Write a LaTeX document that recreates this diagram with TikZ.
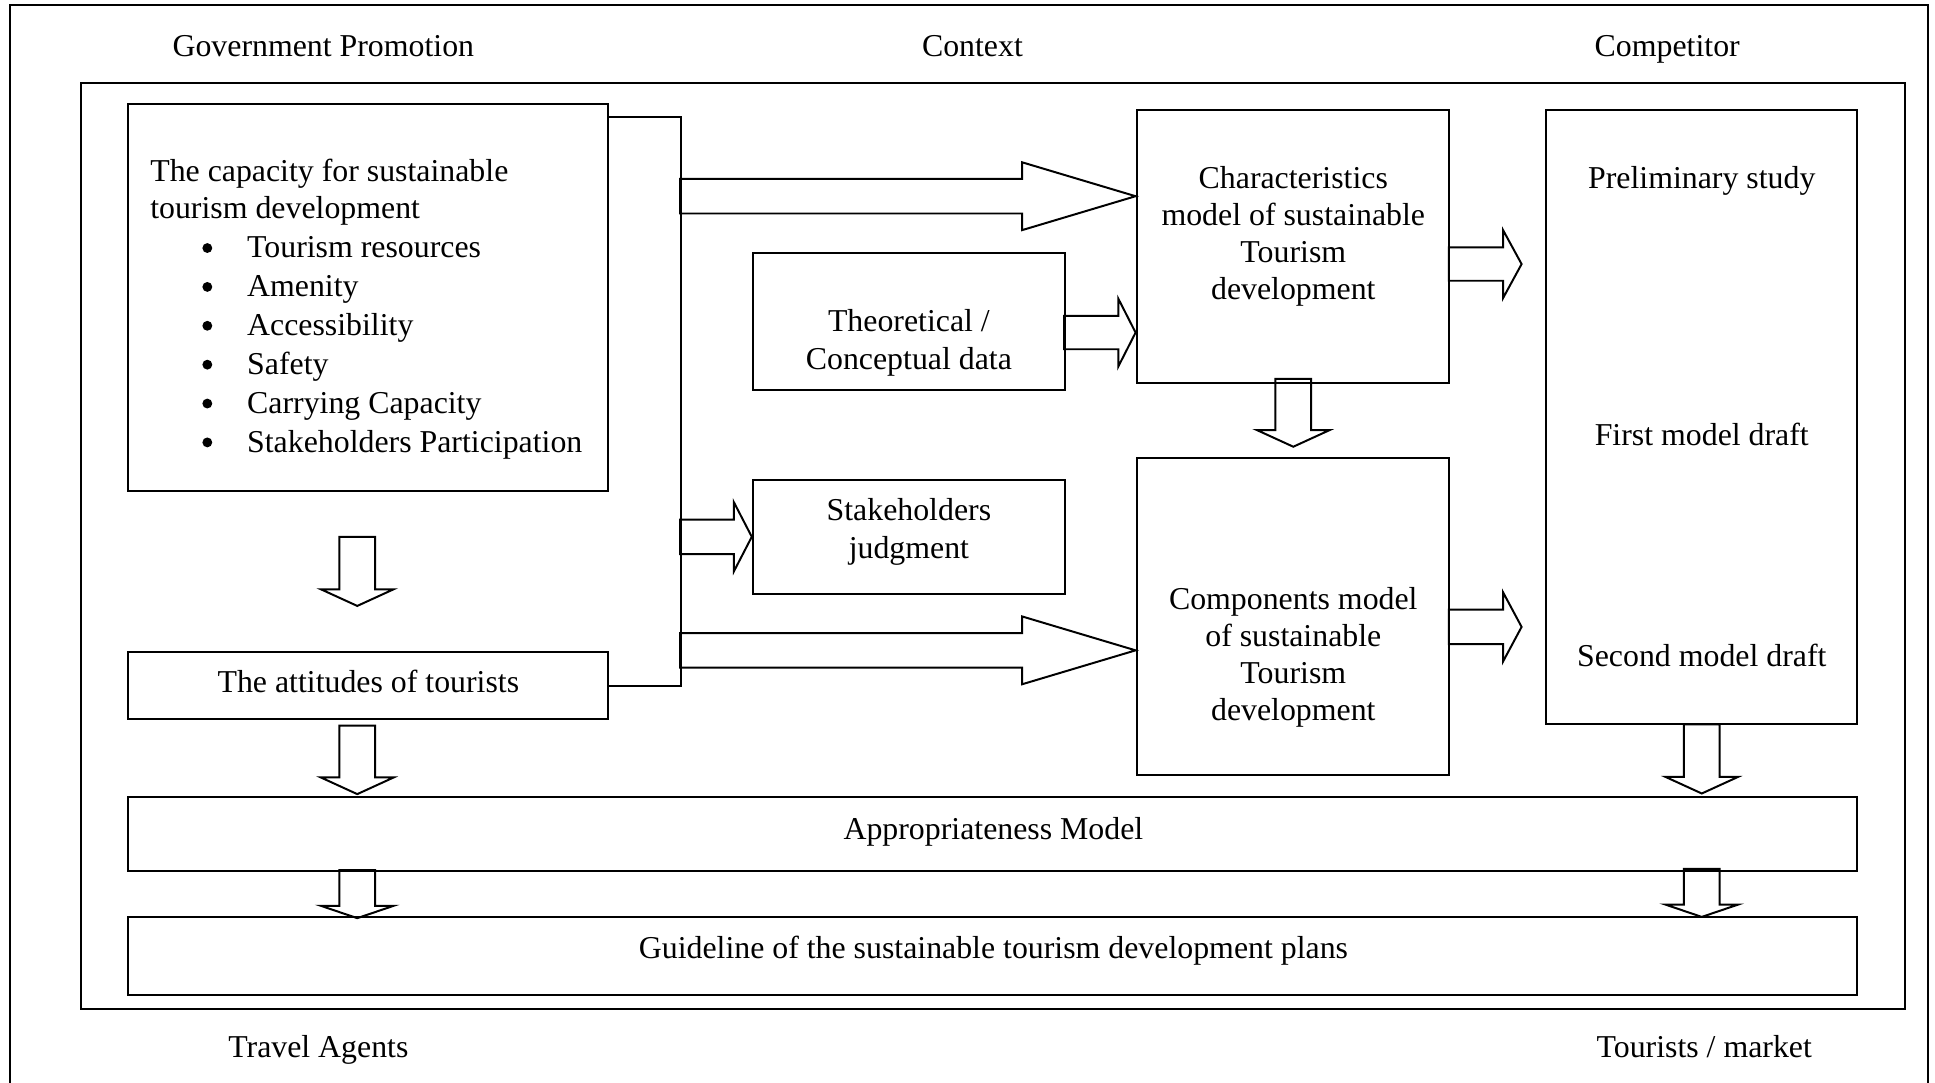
\documentclass[tikz,border=0pt]{standalone}
\usepackage{fontspec}
\setmainfont{Liberation Serif}
\usetikzlibrary{fit}

% right-pointing block arrow: tip, total length, head length, shaft half-width, head half-width
\newcommand{\blockright}[5]{%
  \draw[blk] (#1) -- ++(-#3,-#5) -- ++(0,#5-#4) -- ++(-#2+#3,0) -- ++(0,2*#4)
    -- ++(#2-#3,0) -- ++(0,#5-#4) -- cycle;}
% downward block arrow: tip, total length, head length, shaft half-width, head half-width
\newcommand{\blockdown}[5]{%
  \draw[blk] (#1) -- ++(-#5,-#3) -- ++(#5-#4,0) -- ++(0,-#2+#3) -- ++(2*#4,0)
    -- ++(0,#2-#3) -- ++(#5-#4,0) -- cycle;}

\begin{document}
\begin{tikzpicture}[x=0.5pt,y=-0.5pt,line width=0.8pt,
  box/.style={draw,inner sep=0pt,line width=0.8pt},
  txt/.style={inner sep=0pt,anchor=base,font=\fontsize{12.9pt}{15pt}\selectfont},
  dot/.style={circle,fill,inner sep=0pt,minimum size=4pt},
  blk/.style={draw,line width=0.8pt,line join=miter}]
\useasboundingbox (0,0) rectangle (1568,877);

% outer frame (open at the bottom edge of the page)
\draw (8,900) -- (8,4) -- (1562,4) -- (1562,900);
% inner frame
\node[box,fit={(66,67) (1544,818)}] (frame) {};

% surrounding labels
\node[txt] (gov)  at (262,46)  {Government Promotion};
\node[txt] (ctx)  at (788,46)  {Context};
\node[txt] (comp-l) at (1351,46) {Competitor};
\node[txt] (agents) at (258,857) {Travel Agents};
\node[txt] (market) at (1381,857) {Tourists / market};

% boxes
\node[box,fit={(104,84) (493,398)}]   (cap)   {};
\node[box,fit={(104,528) (493,583)}]  (att)   {};
\node[box,fit={(610,205) (863,316)}]  (theo)  {};
\node[box,fit={(610,389) (863,481)}]  (stk)   {};
\node[box,fit={(921,89) (1174,310)}]  (char)  {};
\node[box,fit={(921,371) (1174,628)}] (comp)  {};
\node[box,fit={(1253,89) (1505,587)}] (stage) {};
\node[box,fit={(104,646) (1505,706)}] (appr)  {};
\node[box,fit={(104,743) (1505,806)}] (guide) {};

% capacity box contents
\node[txt,anchor=base west] (cap-1) at (121,147) {The capacity for sustainable};
\node[txt,anchor=base west] (cap-2) at (121,177) {tourism development};
\foreach \item [count=\i] in {Tourism resources,Amenity,Accessibility,Safety,Carrying Capacity,Stakeholders Participation}{
  \node[dot] (bul-\i) at (168,{201+(\i-1)*31.5}) {};
  \node[txt,anchor=base west] (itm-\i) at (199.5,{209+(\i-1)*31.5}) {\item};
}

% other box texts
\node[txt] (att-t) at (298.5,561) {The attitudes of tourists};
\node[txt] (theo-1) at (736.5,269) {Theoretical /};
\node[txt] (theo-2) at (736.5,299.5) {Conceptual data};
\node[txt] (stk-1) at (736.5,422) {Stakeholders};
\node[txt] (stk-2) at (736.5,452.5) {judgment};
\foreach \t [count=\i] in {Characteristics,model of sustainable,Tourism,development}
  \node[txt] (char-\i) at (1048,{153+(\i-1)*30}) {\t};
\foreach \t [count=\i] in {Components model,of sustainable,Tourism,development}
  \node[txt] (comp-\i) at (1048,{494+(\i-1)*30}) {\t};
\node[txt] (st-1) at (1379,153) {Preliminary study};
\node[txt] (st-2) at (1379,361) {First model draft};
\node[txt] (st-3) at (1379,540) {Second model draft};
\node[txt] (appr-t) at (805,680) {Appropriateness Model};
\node[txt] (guide-t) at (805,777) {Guideline of the sustainable tourism development plans};

% bus collecting the two left inputs
\coordinate (bus) at (552,95);
\draw (cap.east |- bus) -- (bus) -- (att.east -| bus) -- (att.east);

% horizontal block arrows
\blockright{char.west |- 0,159}{369}{92}{14}{27.5}
\blockright{comp.west |- 0,527}{369}{92}{14}{27.5}
\blockright{char.west |- 0,269.5}{58}{14}{13.5}{27.5}
\blockright{stk.west |- 0,435}{58}{14.5}{14}{28}
\blockright{1233,214}{59}{15}{13.5}{27.5}
\blockright{1233,508}{59}{15}{14}{28}

% downward block arrows
\blockdown{289.5,491}{56}{13.5}{14.5}{29.5}
\blockdown{289.5,643.5}{55.5}{13.5}{14.5}{29.5}
\blockdown{289.5,744}{39}{10}{14.5}{29.5}
\blockdown{1048,362}{55}{13.5}{14.5}{29.5}
\blockdown{1379,643}{56}{13.5}{14.5}{29.5}
\blockdown{1379,743}{39}{10}{14.5}{29.5}
\end{tikzpicture}
\end{document}
